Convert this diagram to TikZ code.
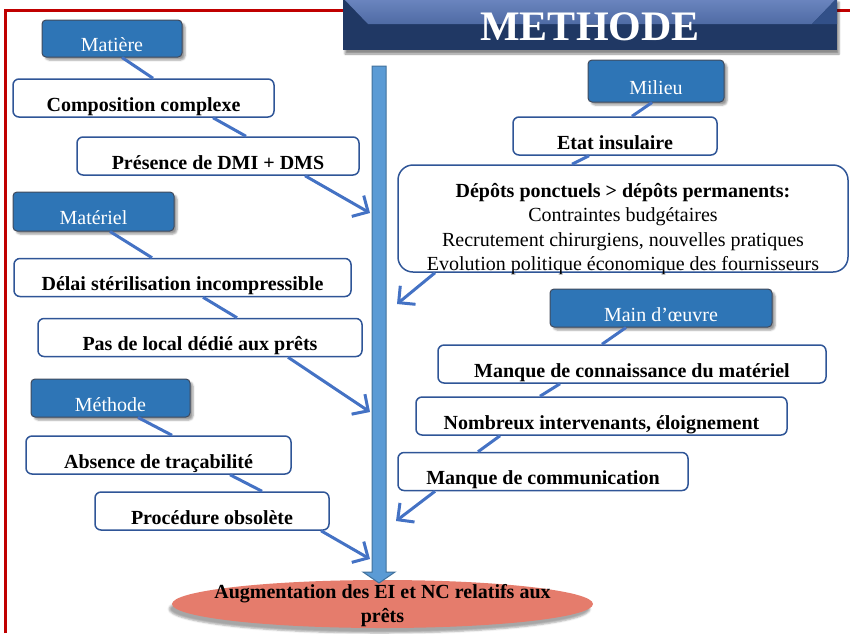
\documentclass[tikz,border=0pt]{standalone}
\usepackage{fontspec}
\setmainfont{Liberation Serif}
\usetikzlibrary{arrows.meta,shapes.geometric,shadows.blur}
\definecolor{framered}{RGB}{192,0,0}
\definecolor{navy}{RGB}{32,56,100}
\definecolor{navylight}{RGB}{108,134,192}
\definecolor{navymid}{RGB}{50,80,136}
\definecolor{catblue}{RGB}{46,117,182}
\definecolor{catedge}{RGB}{64,74,92}
\definecolor{boxedge}{RGB}{47,85,151}
\definecolor{linkblue}{RGB}{68,114,196}
\definecolor{trunkfill}{RGB}{91,155,213}
\definecolor{trunkedge}{RGB}{65,113,156}
\definecolor{salmon}{RGB}{229,124,108}
\tikzset{
  banner/.style={
    fill=navy,
    minimum width=494pt,
    minimum height=52pt,
    inner sep=0pt,
    text=white,
    font=\fontsize{42}{48}\selectfont\bfseries,
    text height=32pt, text depth=0pt,
    blur shadow={shadow xshift=2pt, shadow yshift=-4pt, shadow opacity=45},
    path picture={
      \shade[top color=navylight, bottom color=navymid]
        (path picture bounding box.north west)
        -- (path picture bounding box.north east)
        -- ([xshift=-25pt,yshift=-26pt]path picture bounding box.north east)
        -- ([xshift=25pt,yshift=-26pt]path picture bounding box.north west)
        -- cycle;
      \fill[navymid]
        (path picture bounding box.north east)
        -- ([xshift=-25pt,yshift=-26pt]path picture bounding box.north east)
        -- ([yshift=-26pt]path picture bounding box.north east)
        -- cycle;
    }
  },
  catbox/.style={
    draw=catedge, fill=catblue,
    line width=1pt,
    rounded corners=4pt,
    text=white,
    font=\fontsize{20}{24}\selectfont,
    inner sep=0pt,
    text height=26pt, text depth=0pt,
    blur shadow={shadow xshift=3pt, shadow yshift=-3pt, shadow opacity=40}
  },
  effbox/.style={
    draw=boxedge, fill=white,
    line width=1.5pt,
    rounded corners=6pt,
    font=\fontsize{20}{24}\selectfont\bfseries,
    inner sep=0pt,
    text height=26pt, text depth=0pt,
    minimum height=38pt
  },
  resnode/.style={
    ellipse, fill=salmon,
    minimum width=421pt, minimum height=48pt,
    inner sep=0pt,
    font=\fontsize{20}{24}\selectfont\bfseries,
    text height=0pt, text depth=12pt,
    blur shadow={shadow xshift=-3pt, shadow yshift=-5pt, shadow opacity=35}
  },
  trunk/.style={fill=trunkfill, draw=trunkedge, line width=1pt},
  link/.style={draw=linkblue, line width=3pt},
  linkto/.style={link, -{Straight Barb[length=12pt,width=24pt]}}
}

\begin{document}
\begin{tikzpicture}[x=1pt,y=-1pt]
\useasboundingbox (0,0) rectangle (850,633);
\draw[framered, line width=3pt] (5.5,633) -- (5.5,10) -- (850,10);
\node[banner] (titre) at (590,24) {METHODE};

\foreach \n/\x/\y/\w/\h/\t in {mat/112/38.5/140/37/Matière, mil/656/81/136/42/Milieu, matl/93.5/211.5/161/39/Matériel, meth/110.5/398/159/38/Méthode, mo/661/308/222/38/Main d’œuvre}{
\node[catbox, minimum width=\w pt, minimum height=\h pt] (\n) at (\x,\y) {\t};
}

\foreach \n/\x/\y/\w/\t in {comp/143.5/98/261/Composition complexe, dms/218/156/282/Présence de DMI + DMS, delai/182.5/277.5/337/Délai stérilisation incompressible, local/200/337.5/324/Pas de local dédié aux prêts, trac/158.5/455/265/Absence de traçabilité, proc/212/511/234/Procédure obsolète, etat/615/136/204/Etat insulaire, conn/632/364/388/Manque de connaissance du matériel, nomb/601.5/416/371/{Nombreux intervenants, éloignement}, comm/543/471.5/290/Manque de communication}{
\node[effbox, minimum width=\w pt] (\n) at (\x,\y) {\t};
}

\node[effbox, rounded corners=15pt, minimum width=450pt, minimum height=107pt, text height=32pt, text depth=75pt, font=\fontsize{20}{24.5}\selectfont] (depots) at (623,218.5) {\begin{tabular}[t]{@{}c@{}}\textbf{Dépôts ponctuels > dépôts permanents:}\\ Contraintes budgétaires\\ Recrutement chirurgiens, nouvelles pratiques\\ Evolution politique économique des fournisseurs\end{tabular}};

\node[resnode] (res) at (382.5,604) {\makebox[0pt]{\begin{tabular}[t]{@{}c@{}}Augmentation des EI et NC relatifs aux\\ prêts\end{tabular}}};

\draw[trunk] (372,66) -- (372,572) -- (363,572) -- (379,583) -- (395,572) -- (386,572) -- (386,66) -- cycle;

\coordinate (la) at (370,213);
\coordinate (lb) at (370,412);
\coordinate (lc) at (370,559);
\coordinate (ra) at (397,304);
\coordinate (rb) at (396,521);

\foreach \a/\sa/\b/\sb in {mat/10/comp/9.5, comp/69.5/dms/28, matl/16.5/delai/-30.5, delai/20.5/local/37, meth/27.5/trac/13.5, trac/71.5/proc/50, mil/-4/etat/17, etat/-26/depots/-51, mo/-35/conn/-30, conn/-72/nomb/-61.5, nomb/-101.5/comm/-65}{
\draw[link] ([xshift=\sa pt]\a.south) -- ([xshift=\sb pt]\b.north);
}
\draw[linkto] ([xshift=87pt]dms.south) -- (la);
\draw[linkto] ([xshift=88pt]local.south) -- (lb);
\draw[linkto] ([xshift=109pt]proc.south) -- (lc);
\draw[linkto] ([xshift=-188pt]depots.south) -- (ra);
\draw[linkto] ([xshift=-108pt]comm.south) -- (rb);
\end{tikzpicture}
\end{document}
